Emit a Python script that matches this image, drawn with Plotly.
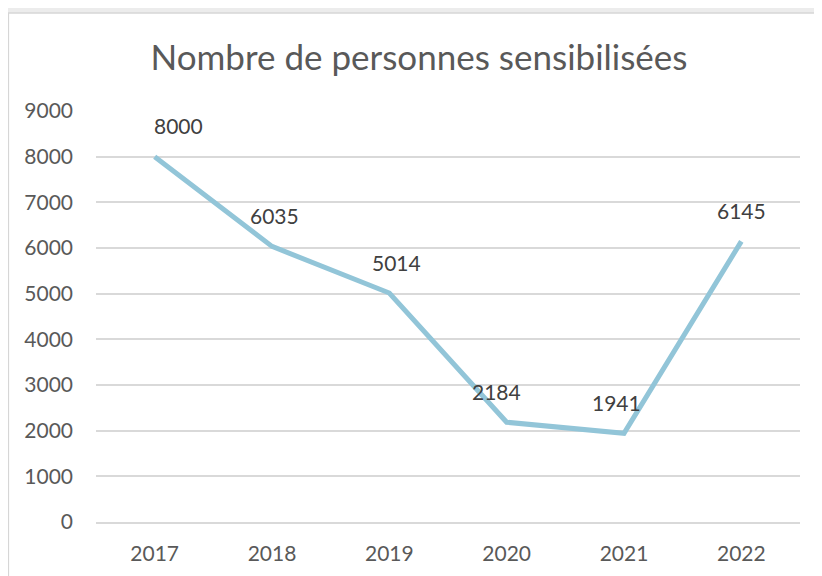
import plotly.graph_objects as go

years = ["2017", "2018", "2019", "2020", "2021", "2022"]
values = [8000, 6035, 5014, 2184, 1941, 6145]
label_xshift = [24, 2, 7, -10, -8, 0]
y_ticks = [0, 1000, 2000, 3000, 4000, 5000, 6000, 7000, 8000, 9000]
title_text = "Nombre de personnes sensibilisées"

FONT = "Lato"
fig = go.Figure()
fig.add_trace(go.Scatter(
    x=years, y=values, mode="lines",
    line=dict(color="#92C5D8", width=5),
    hoverinfo="skip", showlegend=False,
))
annotations = []
for i, (v, dx) in enumerate(zip(values, label_xshift)):
    # category axes position annotations by category index
    annotations.append(dict(x=i, y=v, xref="x", yref="y", text=str(v),
                            showarrow=False, xshift=dx, yshift=31,
                            font=dict(family=FONT, size=21, color="#404040")))

fig.update_layout(
    width=822, height=576,
    margin=dict(l=88, r=30, t=103, b=62),
    paper_bgcolor="#ececec",
    plot_bgcolor="rgba(0,0,0,0)",
    annotations=annotations,
    shapes=[dict(type="rect", xref="paper", yref="paper",
                 x0=-0.1245, x1=1.2, y0=-0.3, y1=1.2384,
                 fillcolor="white", line=dict(color="#d6d6d6", width=1.5),
                 layer="below")],
    title=dict(text=title_text, x=0.5, xanchor="center", xref="container",
               y=(576 - 50) / 576, yanchor="middle",
               font=dict(family=FONT, size=35, color="#595959")),
    xaxis=dict(type="category", range=[-0.5, 5.5], showgrid=False,
               showline=True, linecolor="#d9d9d9", linewidth=1.5,
               ticks="", zeroline=False,
               tickfont=dict(family=FONT, size=21, color="#595959"),
               ticklabelstandoff=12),
    yaxis=dict(range=[0, 9000], tickvals=y_ticks, showgrid=True,
               gridcolor="#d9d9d9", gridwidth=1.5, zeroline=False,
               showline=False, ticks="",
               tickfont=dict(family=FONT, size=21, color="#595959"),
               ticklabelstandoff=22),
)
fig.write_html("out.html")
